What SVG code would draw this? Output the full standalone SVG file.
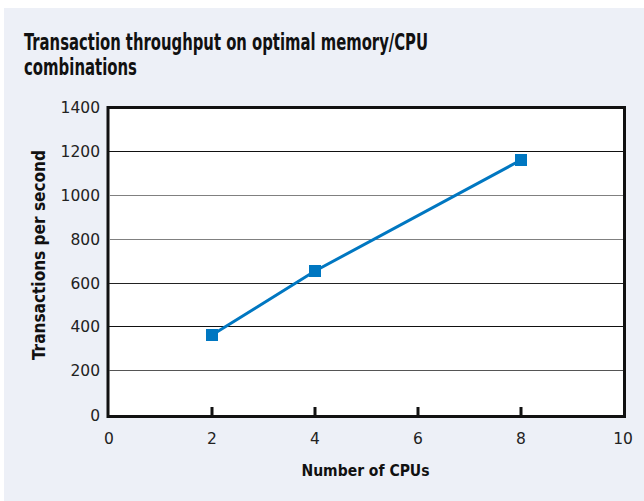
<svg xmlns="http://www.w3.org/2000/svg" width="644" height="501" viewBox="0 0 644 501">
<style>
.bg{fill:#edf0f7}
.title{font-family:"DejaVu Sans","Liberation Sans",sans-serif;font-stretch:condensed;font-weight:bold;font-size:22.5px;fill:#111}
.axt{font-family:"DejaVu Sans","Liberation Sans",sans-serif;font-stretch:condensed;font-weight:bold;font-size:16px;fill:#111}
.tick{font-family:"DejaVu Sans","Liberation Sans",sans-serif;font-size:15.5px;fill:#222}
.grid{stroke-width:1.2;fill:none}
.frame{fill:#fff;stroke:#111;stroke-width:3}
.tk{stroke:#111;stroke-width:3}
.series{fill:none;stroke:#0077c1;stroke-width:3}
.mk{fill:#0077c1}
</style>
<rect class="bg" x="4" y="8" width="640" height="493"/>
<g id="title">
<text class="title" x="24" y="50" textLength="404" lengthAdjust="spacingAndGlyphs">Transaction throughput on optimal memory/CPU</text>
<text class="title" x="24" y="75" textLength="113" lengthAdjust="spacingAndGlyphs">combinations</text>
</g>
<g id="plot">
<rect class="frame" x="108" y="107.5" width="516.5" height="309"/>
<line class="grid" stroke="#111" x1="109" y1="151.5" x2="623" y2="151.5"/>
<line class="grid" stroke="#808080" x1="109" y1="195.5" x2="623" y2="195.5"/>
<line class="grid" stroke="#808080" x1="109" y1="239.5" x2="623" y2="239.5"/>
<line class="grid" stroke="#222" x1="109" y1="283.5" x2="623" y2="283.5"/>
<line class="grid" stroke="#111" x1="109" y1="326.5" x2="623" y2="326.5"/>
<line class="grid" stroke="#555" x1="109" y1="370.5" x2="623" y2="370.5"/>
<line class="tk" x1="212" y1="407" x2="212" y2="416"/>
<line class="tk" x1="315" y1="407" x2="315" y2="416"/>
<line class="tk" x1="418" y1="407" x2="418" y2="416"/>
<line class="tk" x1="521" y1="407" x2="521" y2="416"/>
</g>
<g id="yticks" text-anchor="end">
<text class="tick" x="100" y="113">1400</text>
<text class="tick" x="100" y="157">1200</text>
<text class="tick" x="100" y="201">1000</text>
<text class="tick" x="100" y="245">800</text>
<text class="tick" x="100" y="289">600</text>
<text class="tick" x="100" y="332">400</text>
<text class="tick" x="100" y="376">200</text>
<text class="tick" x="100" y="421">0</text>
</g>
<g id="xticks" text-anchor="middle">
<text class="tick" x="109" y="444">0</text>
<text class="tick" x="212" y="444">2</text>
<text class="tick" x="315" y="444">4</text>
<text class="tick" x="418" y="444">6</text>
<text class="tick" x="521" y="444">8</text>
<text class="tick" x="623" y="444">10</text>
</g>
<g id="axis-titles">
<text class="axt" x="365.5" y="476" text-anchor="middle" textLength="128" lengthAdjust="spacingAndGlyphs">Number of CPUs</text>
<text class="axt" style="font-size:17px" transform="translate(45,255) rotate(-90)" x="0" y="0" text-anchor="middle" textLength="210" lengthAdjust="spacingAndGlyphs">Transactions per second</text>
</g>
<g id="connectors">
<polyline class="series" points="212,335 315,271 521,160"/>
</g>
<g id="markers">
<rect class="mk" x="206" y="329" width="12" height="12"/>
<rect class="mk" x="309" y="265" width="12" height="12"/>
<rect class="mk" x="515" y="154" width="12" height="12"/>
</g>
</svg>
